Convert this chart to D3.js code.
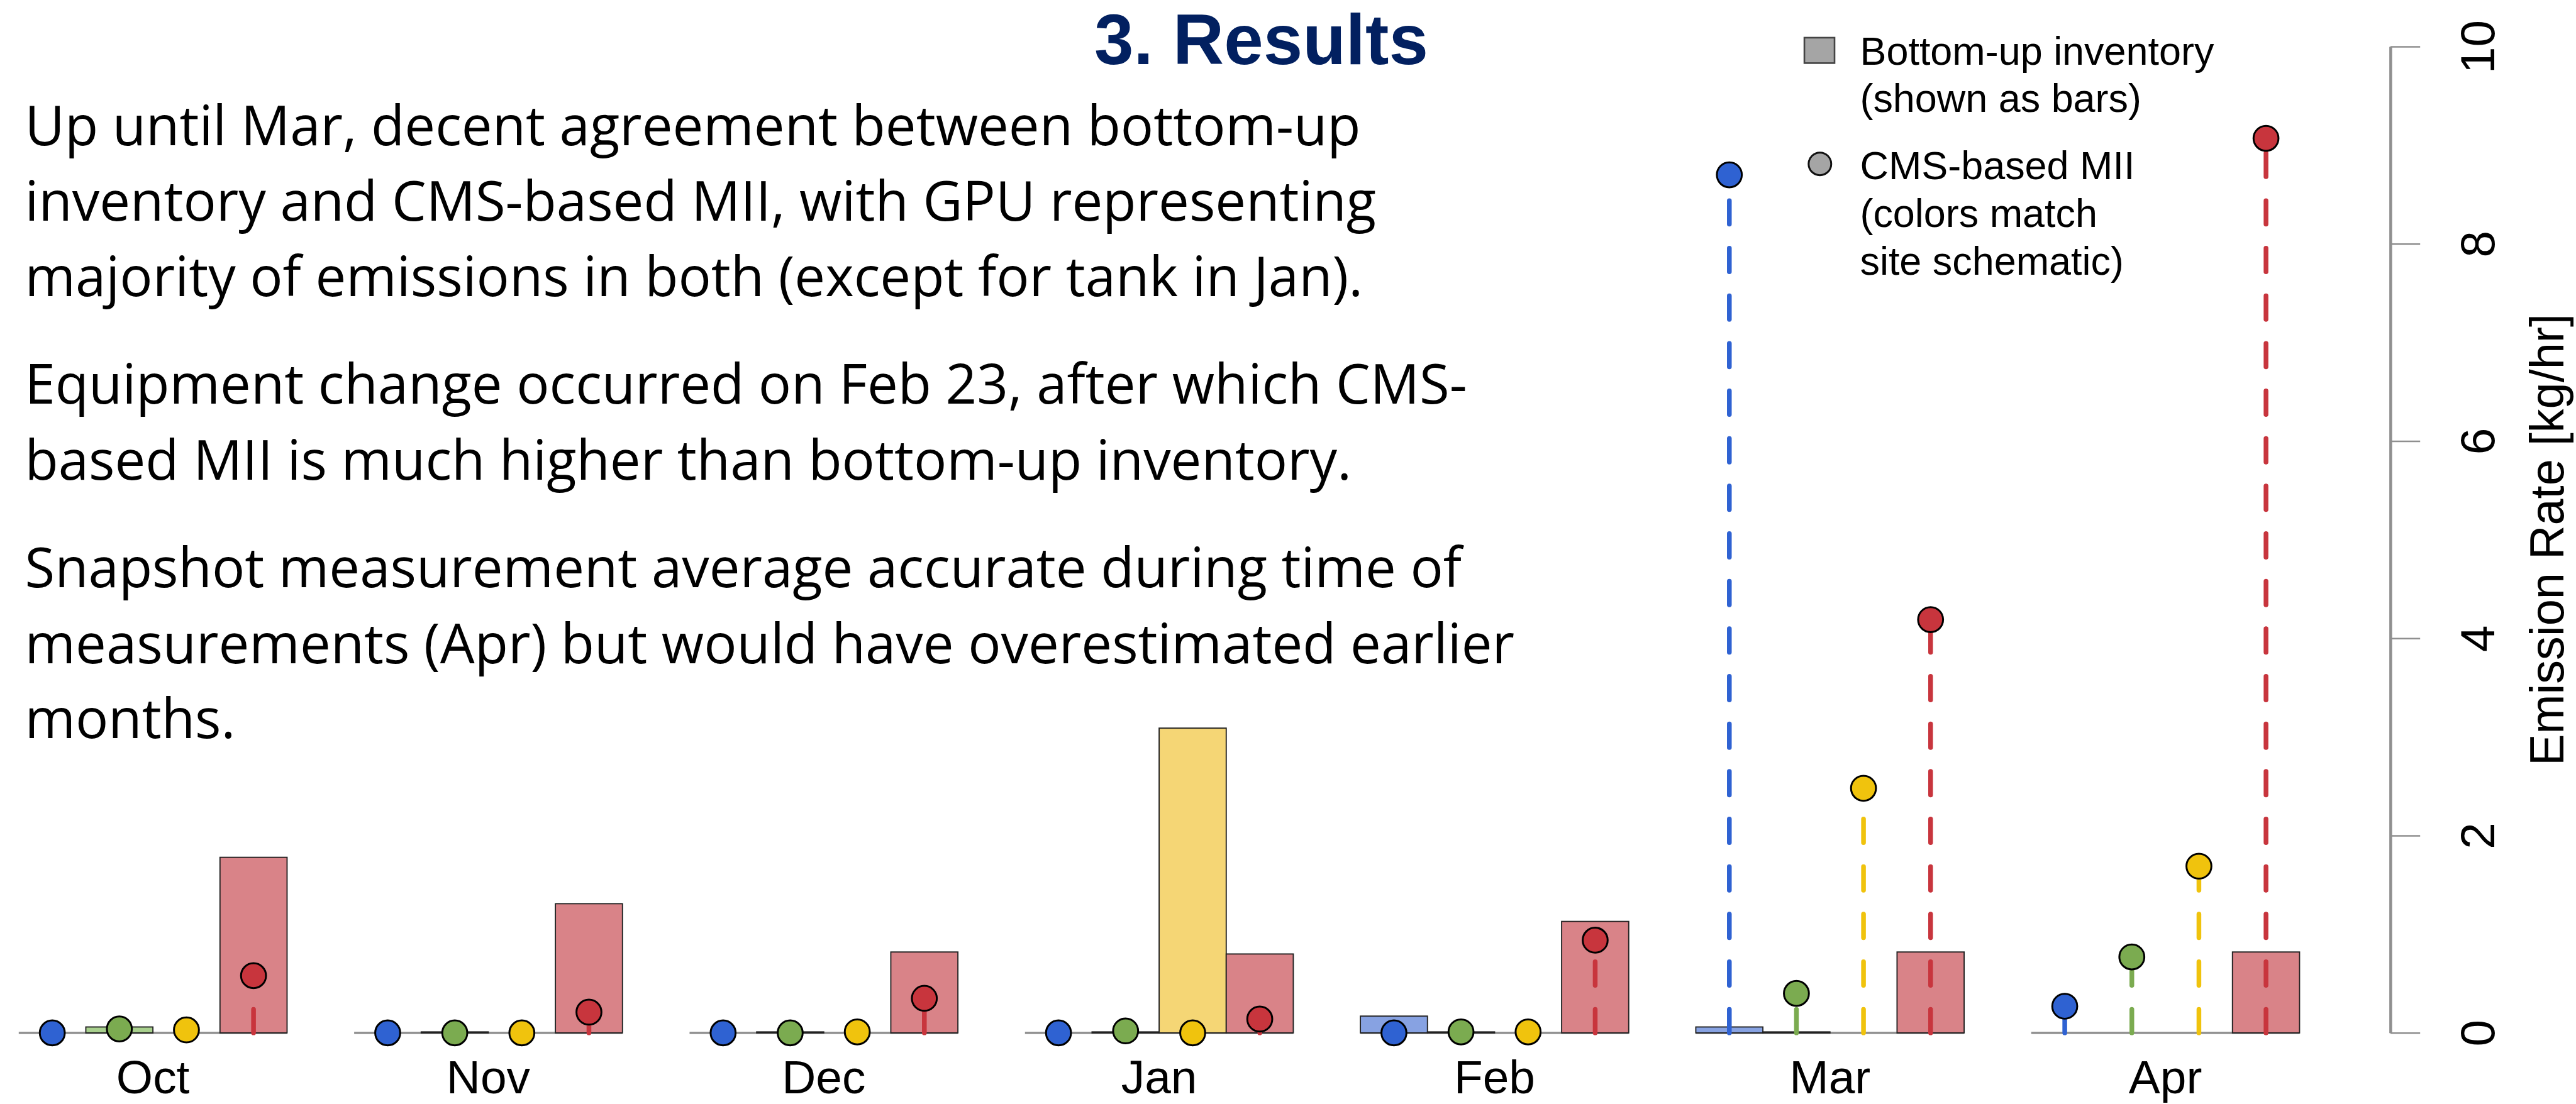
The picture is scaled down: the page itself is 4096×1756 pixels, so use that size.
<!DOCTYPE html>
<html><head><meta charset="utf-8">
<script src="https://cdn.jsdelivr.net/npm/d3@7"></script>
<style>html,body{margin:0;padding:0;background:#fff;overflow:hidden}</style>
</head><body><svg id="chart"></svg>
<script>
// ---------------- data ----------------
const months = ["Oct", "Nov", "Dec", "Jan", "Feb", "Mar", "Apr"];
const sites = ["Blue site", "Green site", "Tank", "GPU"];

// Bottom-up inventory (bars), kg/hr; null = no bar
const inventoryBlue  = [null, null, null, null, 0.17, 0.06, null];
const inventoryGreen = [0.06, 0.01, 0.01, 0.01, 0.01, 0.01, null];
const inventoryTank  = [null, null, null, 3.09, null, null, null];
const inventoryGPU   = [1.78, 1.31, 0.82, 0.80, 1.13, 0.82, 0.82];

// CMS-based MII (points), kg/hr
const miiBlue  = [0, 0, 0, 0, 0, 8.70, 0.27];
const miiGreen = [0.04, 0, 0, 0.02, 0.01, 0.40, 0.77];
const miiTank  = [0.03, 0, 0.01, 0, 0.01, 2.48, 1.69];
const miiGPU   = [0.58, 0.21, 0.35, 0.14, 0.94, 4.19, 9.07];

const yTicks = [0, 2, 4, 6, 8, 10];
const yTitle = "Emission Rate [kg/hr]";
const legendBar = ["Bottom-up inventory", "(shown as bars)"];
const legendPoint = ["CMS-based MII", "(colors match", "site schematic)"];
const title = "3. Results";
const paragraphs = [
  ["Up until Mar, decent agreement between bottom-up",
   "inventory and CMS-based MII, with GPU representing",
   "majority of emissions in both (except for tank in Jan)."],
  ["Equipment change occurred on Feb 23, after which CMS-",
   "based MII is much higher than bottom-up inventory."],
  ["Snapshot measurement average accurate during time of",
   "measurements (Apr) but would have overestimated earlier",
   "months."]
];

// ---------------- styles ----------------
const pointColors = ["#2f62d2", "#7bab50", "#f0c30d", "#c8353d"];
const barColors   = ["#87a2e2", "#a8d08d", "#f5d675", "#d98388"];

const inventory = [inventoryBlue, inventoryGreen, inventoryTank, inventoryGPU];
const mii = [miiBlue, miiGreen, miiTank, miiGPU];

const W = 5466, H = 2344;
const svg = d3.select("#chart")
  .attr("width", 4096).attr("height", 1756)
  .attr("viewBox", `0 0 ${W} ${H}`)
  .style("display", "block");

const y = d3.scaleLinear().domain([0, 10]).range([2193, 99]);
const xMonth = d3.scaleBand().domain(months).range([39, 4880]).paddingInner(0.2).paddingOuter(0);
const xSite = d3.scaleBand().domain(sites).range([0, xMonth.bandwidth()]).padding(0);

// ---------------- title & body text ----------------
svg.append("text")
  .attr("x", 2322).attr("y", 136)
  .attr("font-family", "Liberation Sans, Arial, sans-serif")
  .attr("font-weight", "bold").attr("font-size", 150)
  .attr("fill", "#022060")
  .text(title);

const body = svg.append("g")
  .attr("font-family", "Open Sans, sans-serif")
  .attr("fill", "#000");
const baselines = [[309, 469, 629], [857, 1019], [1247, 1408, 1567]];
const lineNodes = [];
paragraphs.forEach((p, pi) => p.forEach((line, li) => {
  const t = body.append("text").attr("x", 52).attr("y", baselines[pi][li]).attr("font-size", 100).text(line);
  lineNodes.push(t);
}));
// fit font size so the longest line spans the same width as in the reference
const refLine = lineNodes[6];
const w100 = refLine.node().getComputedTextLength();
const fs = 100 * 3162 / w100;
lineNodes.forEach(t => t.attr("font-size", fs));

// ---------------- plot ----------------
const plot = svg.append("g");

// gray baseline under each month group
plot.selectAll("line.base").data(months).join("line")
  .attr("x1", d => xMonth(d)).attr("x2", d => xMonth(d) + xMonth.bandwidth())
  .attr("y1", y(0)).attr("y2", y(0))
  .attr("stroke", "#939393").attr("stroke-width", 5);

// bars
const barData = [];
months.forEach((m, mi) => sites.forEach((s, si) => {
  const v = inventory[si][mi];
  if (v !== null) barData.push({m, s, si, v});
}));
plot.selectAll("rect.bar").data(barData).join("rect")
  .attr("x", d => xMonth(d.m) + xSite(d.s))
  .attr("width", xSite.bandwidth())
  .attr("y", d => y(d.v))
  .attr("height", d => y(0) - y(d.v))
  .attr("fill", d => barColors[d.si])
  .attr("stroke", "#222").attr("stroke-width", 2.5);

// stems + points
const ptData = [];
months.forEach((m, mi) => sites.forEach((s, si) => {
  ptData.push({m, s, si, v: mii[si][mi]});
}));
const cx = d => xMonth(d.m) + xSite(d.s) + xSite.bandwidth() / 2;
plot.selectAll("line.stem").data(ptData.filter(d => d.v > 0)).join("line")
  .attr("x1", cx).attr("x2", cx)
  .attr("y1", y(0)).attr("y2", d => y(d.v))
  .attr("stroke", d => pointColors[d.si])
  .attr("stroke-width", 10)
  .attr("stroke-linecap", "round")
  .attr("stroke-dasharray", "50 51");
plot.selectAll("circle.pt").data(ptData).join("circle")
  .attr("cx", cx).attr("cy", d => y(d.v))
  .attr("r", 26.5)
  .attr("fill", d => pointColors[d.si])
  .attr("stroke", "#000").attr("stroke-width", 4);

// month labels
const xAxis = svg.append("g").attr("transform", `translate(0,${y(0)})`)
  .call(d3.axisBottom(xMonth).tickSize(0).tickPadding(0));
xAxis.select(".domain").remove();
xAxis.selectAll("text")
  .attr("y", 128).attr("dy", 0)
  .attr("font-family", "Liberation Sans, Arial, sans-serif")
  .attr("font-size", 100).attr("fill", "#000");

// right y axis
const yAxis = svg.append("g").attr("transform", "translate(5073,0)")
  .call(d3.axisRight(y).tickValues(yTicks).tickSize(63).tickSizeOuter(0).tickFormat(d3.format("d")));
yAxis.select(".domain").attr("stroke", "#8f8f8f").attr("stroke-width", 6);
yAxis.selectAll(".tick line").attr("stroke", "#8f8f8f").attr("stroke-width", 3.5);
yAxis.selectAll(".tick text")
  .attr("x", 0).attr("dy", 0)
  .attr("transform", "translate(220,0) rotate(-90)")
  .attr("text-anchor", "middle")
  .attr("font-family", "Liberation Sans, Arial, sans-serif")
  .attr("font-size", 102).attr("fill", "#000");

svg.append("text")
  .attr("transform", `translate(5440,${(y(0) + y(10)) / 2}) rotate(-90)`)
  .attr("text-anchor", "middle")
  .attr("font-family", "Liberation Sans, Arial, sans-serif")
  .attr("font-size", 101).attr("fill", "#000")
  .text(yTitle);

// legend
const lg = svg.append("g").attr("font-family", "Liberation Sans, Arial, sans-serif").attr("font-size", 84);
lg.append("rect").attr("x", 3829).attr("y", 80).attr("width", 64).attr("height", 54)
  .attr("fill", "#a5a5a5").attr("stroke", "#444").attr("stroke-width", 3.5);
lg.append("circle").attr("cx", 3862).attr("cy", 348).attr("r", 24)
  .attr("fill", "#a5a5a5").attr("stroke", "#111").attr("stroke-width", 4);
const legBase1 = [137, 238];
const legBase2 = [381, 482, 583];
legendBar.forEach((t, i) => lg.append("text").attr("x", 3947).attr("y", legBase1[i]).text(t));
legendPoint.forEach((t, i) => lg.append("text").attr("x", 3947).attr("y", legBase2[i]).text(t));
</script></body></html>
